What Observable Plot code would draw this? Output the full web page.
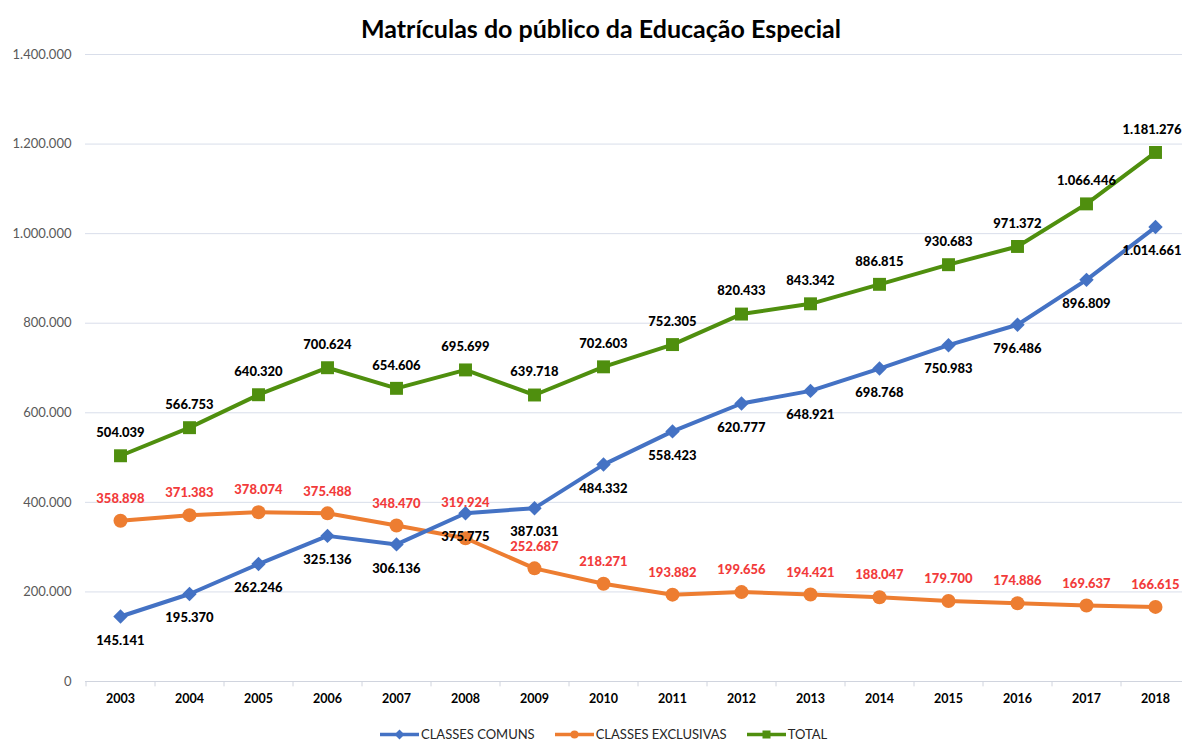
<!DOCTYPE html>
<html>
<head>
<meta charset="utf-8">
<script src="https://cdn.jsdelivr.net/npm/d3@7"></script>
<script src="https://cdn.jsdelivr.net/npm/@observablehq/plot@0.6"></script>
<style>
  html, body { margin: 0; padding: 0; background: #fff; overflow: hidden; }
  body { width: 1182px; height: 740px; position: relative; font-family: Lato, "Open Sans", sans-serif; }
  #title { height: 48px; line-height: 56px; text-align: center; padding-left: 20px; box-sizing: border-box;
           font-size: 25px; font-weight: bold; color: #000; }
  #legend { position: absolute; left: 380px; top: 726px; display: flex; align-items: center; font-size: 13px; color: #262626; }
  #legend .item { display: flex; align-items: center; margin-right: 20px; }
  #legend svg { margin-right: 1px; }
</style>
</head>
<body>
<div id="title">Matrículas do público da Educação Especial</div>
<div id="chart"></div>
<div id="legend"></div>
<script>
const years = ["2003","2004","2005","2006","2007","2008","2009","2010","2011","2012","2013","2014","2015","2016","2017","2018"];
const comuns = [145141,195370,262246,325136,306136,375775,387031,484332,558423,620777,648921,698768,750983,796486,896809,1014661];
const exclusivas = [358898,371383,378074,375488,348470,319924,252687,218271,193882,199656,194421,188047,179700,174886,169637,166615];
const total = [504039,566753,640320,700624,654606,695699,639718,702603,752305,820433,843342,886815,930683,971372,1066446,1181276];
const yTicks = [0,200000,400000,600000,800000,1000000,1200000,1400000];
const seriesNames = ["CLASSES COMUNS","CLASSES EXCLUSIVAS","TOTAL"];

const colors = {"CLASSES COMUNS": "#4472c4", "CLASSES EXCLUSIVAS": "#ed7d31", "TOTAL": "#4f8f0e"};
const labelRed = "#f23b3b";

const locale = d3.formatLocale({decimal: ",", thousands: ".", grouping: [3], currency: ["R$", ""]});
const fmt = locale.format(",d");

const mk = (vals, name) => years.map((y, i) => ({year: y, value: vals[i], series: name}));
const dComuns = mk(comuns, seriesNames[0]);
const dExcl = mk(exclusivas, seriesNames[1]);
const dTotal = mk(total, seriesNames[2]);
const lastYear = years[years.length - 1];
const notLast = d => d.year !== lastYear;
const isLast = d => d.year === lastYear;

const labelFont = {fontSize: 13, fontWeight: 900, fontFamily: "Lato, 'Open Sans', sans-serif"};

const chart = Plot.plot({
  width: 1182,
  height: 680,
  marginTop: 6,
  marginBottom: 47,
  marginLeft: 85,
  marginRight: 0,
  style: {fontFamily: "Lato, 'Open Sans', sans-serif", background: "#fff", overflow: "visible"},
  x: {type: "point", domain: years, range: [85, 1189], padding: 0.5, label: null},
  y: {domain: [0, 1400000], ticks: yTicks, label: null},
  marks: [
    Plot.gridY(yTicks.filter(t => t > 0), {stroke: "#d9deea", strokeOpacity: 1, strokeWidth: 1}),
    Plot.ruleY([0], {stroke: "#d0d4de", strokeWidth: 1}),
    Plot.ruleX(years, {x: d => d, dx: -34.5, y1: 0, y2: -12000, stroke: "#d0d4de"}),
    Plot.axisY({ticks: yTicks, tickSize: 0, tickPadding: 14, tickFormat: fmt, fontSize: 13, fill: "#595959", label: null}),
    Plot.axisX({tickSize: 0, tickPadding: 13, fontSize: 12.5, fontWeight: "bold", fill: "#000", label: null}),
    // lines
    Plot.line(dExcl, {x: "year", y: "value", stroke: colors["CLASSES EXCLUSIVAS"], strokeWidth: 4}),
    Plot.line(dComuns, {x: "year", y: "value", stroke: colors["CLASSES COMUNS"], strokeWidth: 4}),
    Plot.line(dTotal, {x: "year", y: "value", stroke: colors["TOTAL"], strokeWidth: 4}),
    // markers
    Plot.dot(dExcl, {x: "year", y: "value", fill: colors["CLASSES EXCLUSIVAS"], r: 7, symbol: "circle"}),
    Plot.dot(dComuns, {x: "year", y: "value", fill: colors["CLASSES COMUNS"], r: 6.5, symbol: "diamond2"}),
    Plot.dot(dTotal, {x: "year", y: "value", fill: colors["TOTAL"], r: 7.3, symbol: "square"}),
    // labels
    Plot.text(dTotal.filter(notLast), {x: "year", y: "value", text: d => fmt(d.value), dy: -23, fill: "#000", ...labelFont}),
    Plot.text(dTotal.filter(isLast), {x: "year", y: "value", text: d => fmt(d.value), dy: -23, dx: 26, textAnchor: "end", fill: "#000", ...labelFont}),
    Plot.text(dComuns.filter(notLast), {x: "year", y: "value", text: d => fmt(d.value), dy: 24, fill: "#000", ...labelFont}),
    Plot.text(dComuns.filter(isLast), {x: "year", y: "value", text: d => fmt(d.value), dy: 24, dx: 26, textAnchor: "end", fill: "#000", ...labelFont}),
    Plot.text(dExcl.filter(d => d.year !== "2008"), {x: "year", y: "value", text: d => fmt(d.value), dy: -22, fill: labelRed, ...labelFont}),
    Plot.text(dExcl.filter(d => d.year === "2008"), {x: "year", y: "value", text: d => fmt(d.value), dy: -35, fill: labelRed, ...labelFont})
  ]
});
document.getElementById("chart").appendChild(chart);

// legend
const legend = document.getElementById("legend");
const symbolOf = {"CLASSES COMUNS": "diamond", "CLASSES EXCLUSIVAS": "circle", "TOTAL": "square"};
seriesNames.forEach(name => {
  const item = document.createElement("div");
  item.className = "item";
  const c = colors[name];
  const s = symbolOf[name];
  let marker;
  if (s === "diamond") marker = `<rect x="16" y="2" width="7" height="7" fill="${c}" transform="rotate(45 19.5 5.5)"/>`;
  else if (s === "circle") marker = `<circle cx="19.5" cy="5.5" r="4" fill="${c}"/>`;
  else marker = `<rect x="15.5" y="1.5" width="8" height="8" fill="${c}"/>`;
  item.innerHTML = `<svg width="40" height="11"><line x1="0" y1="5.5" x2="39" y2="5.5" stroke="${c}" stroke-width="3.5"/>${marker}</svg><span>${name}</span>`;
  legend.appendChild(item);
});
</script>
</body>
</html>
